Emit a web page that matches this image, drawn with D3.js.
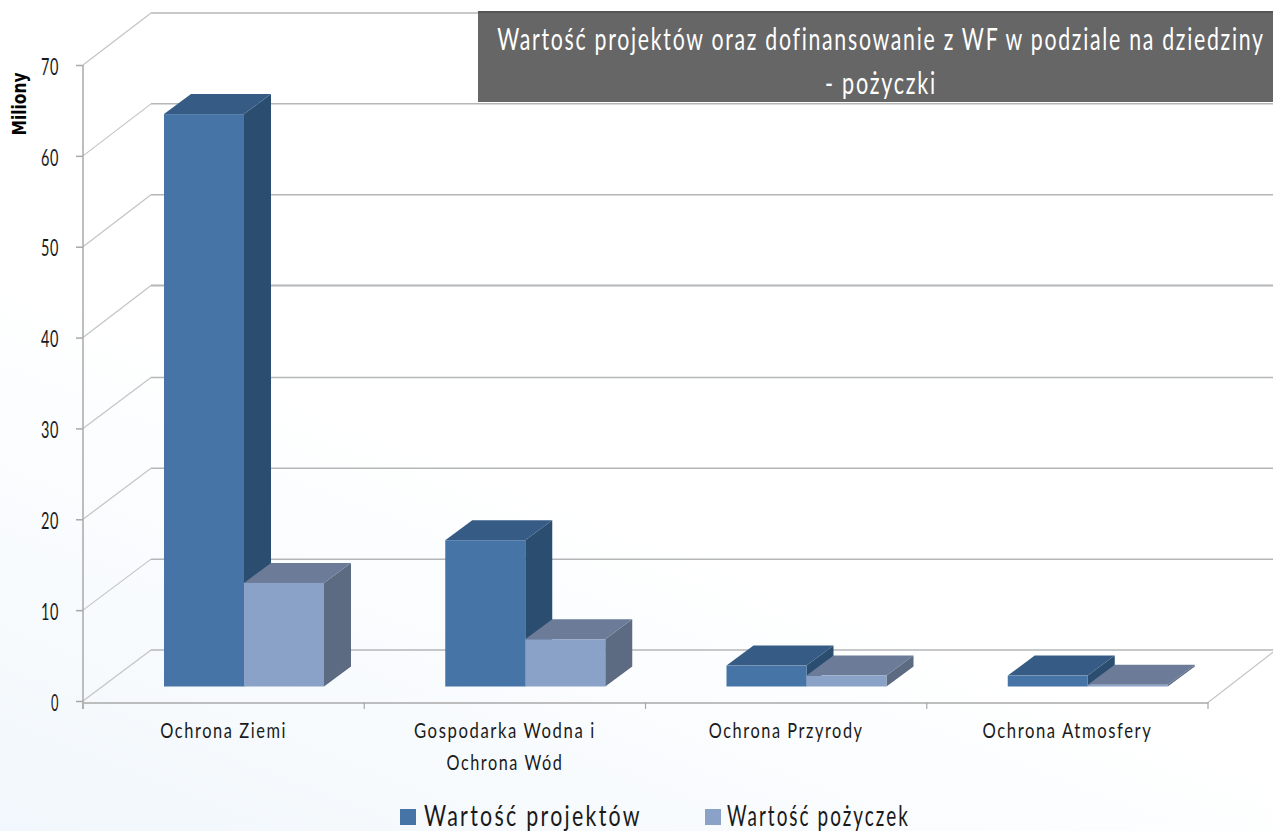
<!DOCTYPE html>
<html><head><meta charset="utf-8">
<script src="https://cdn.jsdelivr.net/npm/d3@7"></script>
<style>
html,body{margin:0;padding:0;background:#fff;overflow:hidden}
svg{display:block}
text{font-family:"Lato","Open Sans",sans-serif}
</style></head><body>
<svg id="c" width="1273" height="831"></svg>
<script>
const categories = ["Ochrona Ziemi", "Gospodarka Wodna i|Ochrona Wód", "Ochrona Przyrody", "Ochrona Atmosfery"];
const seriesNames = ["Wartość projektów", "Wartość pożyczek"];
const projectValues = [63, 16.1, 2.3, 1.2];
const loanValues = [11.4, 5.2, 1.2, 0.2];
const yTicks = [0, 10, 20, 30, 40, 50, 60, 70];
const titleLines = ["Wartość projektów oraz dofinansowanie z WF w podziale na dziedziny", "- pożyczki"];
const yTitle = "Miliony";

const svg = d3.select("#c");
const defs = svg.append("defs");
const bg = defs.append("linearGradient").attr("id","bg").attr("x1","0").attr("y1","1").attr("x2","0.3").attr("y2","0.5");
bg.append("stop").attr("offset","0").attr("stop-color","#f1f7fc");
bg.append("stop").attr("offset","1").attr("stop-color","#ffffff");
svg.append("rect").attr("width",1273).attr("height",831).attr("fill","url(#bg)");

const x0 = d3.scaleBand().domain(categories).range([83, 1208]);
const y = d3.scaleLinear().domain([0, 70]).range([701, 65]);
const axisY = 702.5;
const wall = {dx: 68, dy: -52};
const front = {dx: 21, dy: -16};
const depth = {dx: 27, dy: -20};
const barW = 80, inner = 60;
const gridCol = "#b4b6b8";

// condenses a text horizontally to a measured width, keeping its height
function fit(sel, w, prefix){
  const node = sel.node();
  const len = node.getComputedTextLength();
  const tx = +sel.attr("x") || 0, ty = +sel.attr("y") || 0;
  sel.attr("x",0).attr("y",0)
    .attr("transform",`${prefix || `translate(${tx},${ty})`} scale(${w/len},1)`);
  return sel;
}

// walls and gridlines
yTicks.forEach(v => {
  const yy = y(v);
  const by = yy + wall.dy + (v < 40 ? 1 : 0);
  svg.append("line").attr("x1",83).attr("y1",yy).attr("x2",83+wall.dx).attr("y2",by)
    .attr("stroke","#c2c4c6").attr("stroke-width",1.2);
  svg.append("line").attr("x1",83+wall.dx).attr("y1",by).attr("x2",1276).attr("y2",by)
    .attr("stroke",gridCol).attr("stroke-width",v===40?2:1.5);
});
svg.append("line").attr("x1",1208).attr("y1",axisY).attr("x2",1208+66).attr("y2",axisY-51)
  .attr("stroke","#c2c4c6").attr("stroke-width",1.2);

// axes
const axisCol = "#a8a8a8";
const yAxis = svg.append("g").attr("transform","translate(83,0)")
  .call(d3.axisLeft(y).tickValues(yTicks).tickSize(7).tickPadding(17).tickSizeOuter(0));
yAxis.select("path").remove();
svg.append("line").attr("x1",83).attr("x2",83).attr("y1",65).attr("y2",709).attr("stroke",axisCol).attr("stroke-width",1.5);
const xAxis = svg.append("g").attr("transform",`translate(0,${axisY})`)
  .call(d3.axisBottom(x0).tickValues([]).tickSize(0));
const tickX = categories.map(c => x0(c)).concat([1208]);
tickX.forEach(t => svg.append("line").attr("x1",t).attr("x2",t).attr("y1",axisY).attr("y2",709).attr("stroke",axisCol).attr("stroke-width",1.2));
[yAxis,xAxis].forEach(a => a.selectAll("path,line").attr("stroke",axisCol).attr("stroke-width",1.5));
yAxis.selectAll("text").attr("font-size",24).attr("font-family","Lato").attr("fill","#1a1a1a").style("letter-spacing","1px")
  .each(function(d){ const s = d3.select(this); const tx = s.attr("x");
    fit(s.attr("y",null).attr("dy","0.32em"), d>0?18:8, `translate(${tx},1.5)`); });

// bars
const colors = [
  {front:"#4674a6", side:"#2a4d70", top:"#365c85"},
  {front:"#8aa2c8", side:"#5c6b82", top:"#6c7b97"}
];
function bar3d(px, val, col){
  const base = 686.5, x1 = px + barW, h = y(0) - y(val), t = base - h;
  const g = svg.append("g");
  const P = pts => pts.map(p => p.join(",")).join(" ");
  g.append("polygon").attr("fill",col.side)
    .attr("points",P([[x1,t],[x1+depth.dx,t+depth.dy],[x1+depth.dx,base+depth.dy],[x1,base]]));
  g.append("polygon").attr("fill",col.top)
    .attr("points",P([[px,t],[px+depth.dx,t+depth.dy],[x1+depth.dx,t+depth.dy],[x1,t]]));
  g.append("rect").attr("x",px).attr("y",t).attr("width",barW).attr("height",h).attr("fill",col.front);
}
categories.forEach((c,i) => {
  const px = x0(c) + front.dx + inner;
  bar3d(px, projectValues[i], colors[0]);
  bar3d(px + barW, loanValues[i], colors[1]);
});

// category labels
const labelWidths = {"Ochrona Ziemi":127,"Gospodarka Wodna i":182,"Ochrona Wód":117,"Ochrona Przyrody":155,"Ochrona Atmosfery":170};
categories.forEach(c => {
  const cx = x0(c) + x0.bandwidth()/2;
  c.split("|").forEach((ln,j) => {
    fit(svg.append("text").attr("x",cx).attr("y",738+j*32).attr("text-anchor","middle")
      .attr("font-size",21).attr("fill","#1a1a1a").style("letter-spacing","2px").text(ln), labelWidths[ln]);
  });
});

// y title
fit(svg.append("text").attr("text-anchor","middle")
  .attr("font-size",19).attr("font-weight","bold").attr("fill","#000")
  .style("font-family","'DejaVu Sans'").text(yTitle),63,"translate(26,104) rotate(-90)");

// title box
svg.append("rect").attr("x",478).attr("y",12).attr("width",795).attr("height",90).attr("fill","#666");
svg.append("rect").attr("x",478).attr("y",11).attr("width",795).attr("height",2).attr("fill","#555");
titleLines.forEach((t,i) => {
  fit(svg.append("text").attr("x",881).attr("y",[50,94][i]).attr("text-anchor","middle")
    .attr("font-size",31).attr("fill","#fff").style("letter-spacing","2.5px").text(t), [768,112][i]);
});

// legend
[[400,424,218],[705,727,183]].forEach((p,i) => {
  svg.append("rect").attr("x",p[0]).attr("y",809).attr("width",16).attr("height",16).attr("fill",colors[i].front);
  fit(svg.append("text").attr("x",p[1]).attr("y",826).attr("font-size",28).attr("fill","#1a1a1a").style("letter-spacing","3px").text(seriesNames[i]),p[2]);
});
</script>
</body></html>
